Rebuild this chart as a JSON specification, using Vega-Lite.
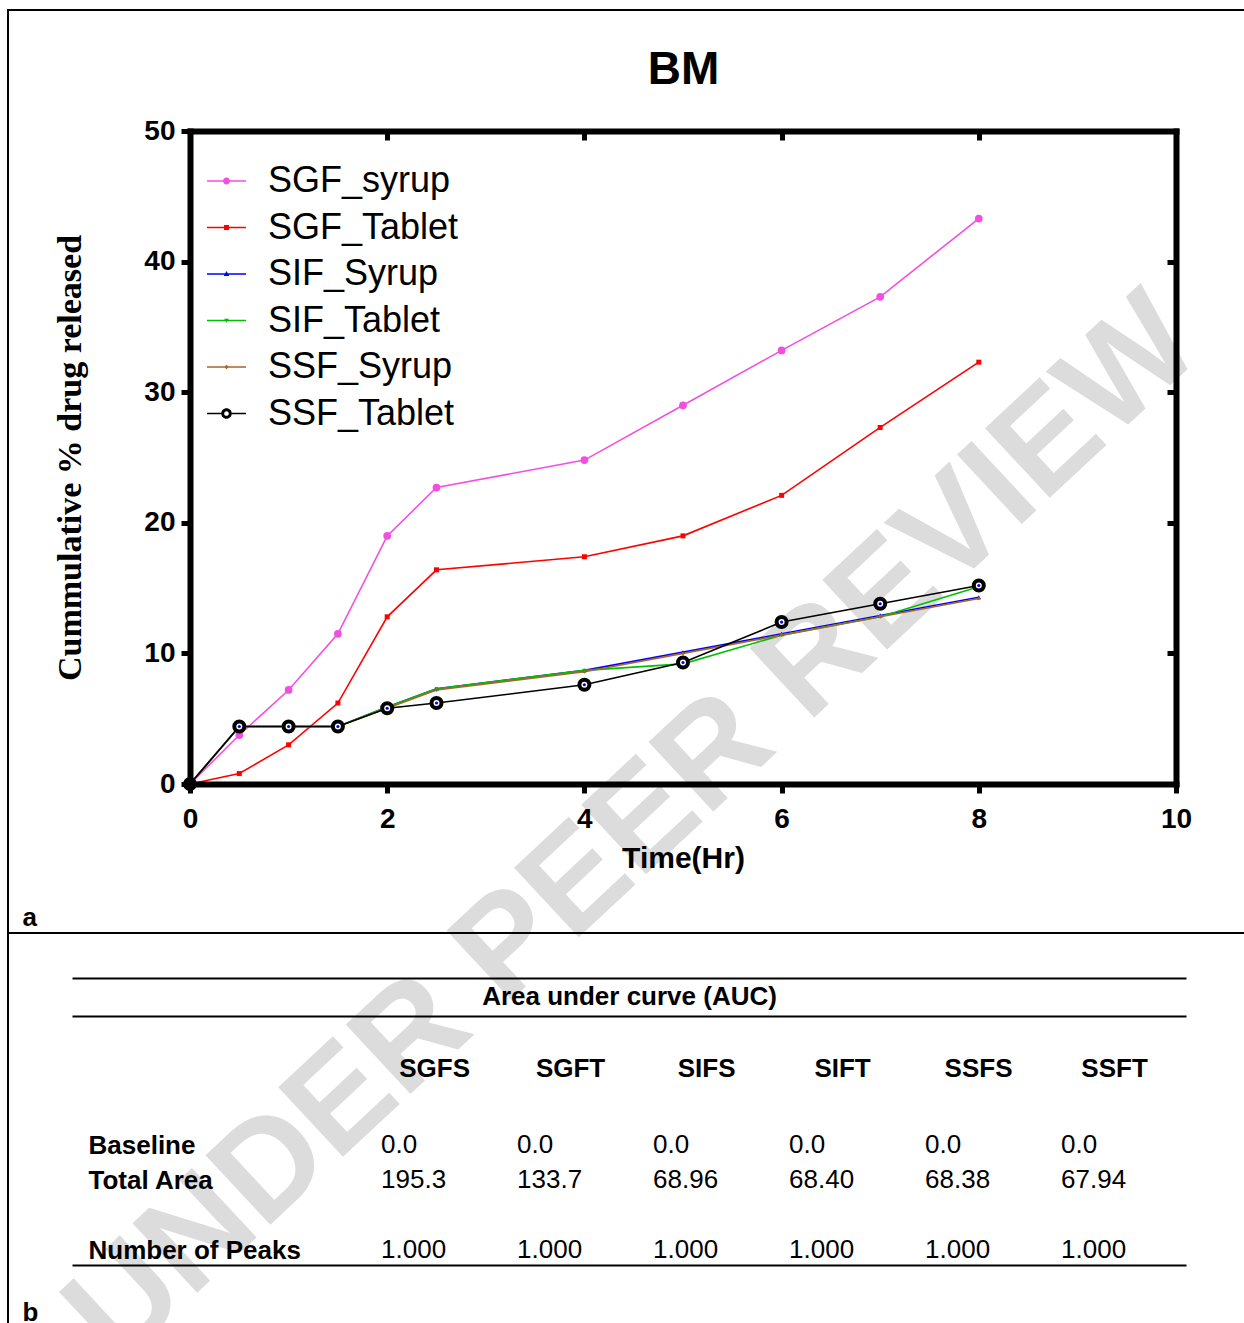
{
  "$schema": "https://vega.github.io/schema/vega-lite/v6.json",
  "padding": {"left": 7, "top": 9, "right": 0, "bottom": 0},
  "background": "white",
  "bounds": "flush",
  "spacing": 0,
  "resolve": {"scale": {"color": "independent", "shape": "independent"}, "legend": {"color": "independent", "shape": "independent"}},
  "config": {
    "font": "Liberation Sans",
    "axis": {"grid": false, "zindex": 1, "domainColor": "black", "tickColor": "black", "labelColor": "black", "titleColor": "black", "labelFont": "Liberation Sans", "titleFont": "Liberation Sans"}
  },
  "datasets": {
    "release": [
      {"series": "SGF_syrup", "time": 0, "pct": 0}, {"series": "SGF_syrup", "time": 0.5, "pct": 3.75}, {"series": "SGF_syrup", "time": 1, "pct": 7.2}, {"series": "SGF_syrup", "time": 1.5, "pct": 11.5}, {"series": "SGF_syrup", "time": 2, "pct": 19.0}, {"series": "SGF_syrup", "time": 2.5, "pct": 22.7}, {"series": "SGF_syrup", "time": 4, "pct": 24.8}, {"series": "SGF_syrup", "time": 5, "pct": 29.0}, {"series": "SGF_syrup", "time": 6, "pct": 33.2}, {"series": "SGF_syrup", "time": 7, "pct": 37.3}, {"series": "SGF_syrup", "time": 8, "pct": 43.3},
      {"series": "SGF_Tablet", "time": 0, "pct": 0}, {"series": "SGF_Tablet", "time": 0.5, "pct": 0.8}, {"series": "SGF_Tablet", "time": 1, "pct": 3.0}, {"series": "SGF_Tablet", "time": 1.5, "pct": 6.2}, {"series": "SGF_Tablet", "time": 2, "pct": 12.8}, {"series": "SGF_Tablet", "time": 2.5, "pct": 16.4}, {"series": "SGF_Tablet", "time": 4, "pct": 17.4}, {"series": "SGF_Tablet", "time": 5, "pct": 19.0}, {"series": "SGF_Tablet", "time": 6, "pct": 22.1}, {"series": "SGF_Tablet", "time": 7, "pct": 27.3}, {"series": "SGF_Tablet", "time": 8, "pct": 32.3},
      {"series": "SIF_Syrup", "time": 0, "pct": 0}, {"series": "SIF_Syrup", "time": 0.5, "pct": 4.4}, {"series": "SIF_Syrup", "time": 1, "pct": 4.4}, {"series": "SIF_Syrup", "time": 1.5, "pct": 4.4}, {"series": "SIF_Syrup", "time": 2, "pct": 5.9}, {"series": "SIF_Syrup", "time": 2.5, "pct": 7.3}, {"series": "SIF_Syrup", "time": 4, "pct": 8.7}, {"series": "SIF_Syrup", "time": 5, "pct": 10.1}, {"series": "SIF_Syrup", "time": 6, "pct": 11.5}, {"series": "SIF_Syrup", "time": 7, "pct": 12.9}, {"series": "SIF_Syrup", "time": 8, "pct": 14.3},
      {"series": "SIF_Tablet", "time": 0, "pct": 0}, {"series": "SIF_Tablet", "time": 0.5, "pct": 4.4}, {"series": "SIF_Tablet", "time": 1, "pct": 4.4}, {"series": "SIF_Tablet", "time": 1.5, "pct": 4.4}, {"series": "SIF_Tablet", "time": 2, "pct": 5.9}, {"series": "SIF_Tablet", "time": 2.5, "pct": 7.3}, {"series": "SIF_Tablet", "time": 4, "pct": 8.7}, {"series": "SIF_Tablet", "time": 5, "pct": 9.2}, {"series": "SIF_Tablet", "time": 6, "pct": 11.4}, {"series": "SIF_Tablet", "time": 7, "pct": 12.8}, {"series": "SIF_Tablet", "time": 8, "pct": 15.1},
      {"series": "SSF_Syrup", "time": 0, "pct": 0}, {"series": "SSF_Syrup", "time": 0.5, "pct": 4.4}, {"series": "SSF_Syrup", "time": 1, "pct": 4.4}, {"series": "SSF_Syrup", "time": 1.5, "pct": 4.4}, {"series": "SSF_Syrup", "time": 2, "pct": 5.8}, {"series": "SSF_Syrup", "time": 2.5, "pct": 7.2}, {"series": "SSF_Syrup", "time": 4, "pct": 8.6}, {"series": "SSF_Syrup", "time": 5, "pct": 10.0}, {"series": "SSF_Syrup", "time": 6, "pct": 11.4}, {"series": "SSF_Syrup", "time": 7, "pct": 12.8}, {"series": "SSF_Syrup", "time": 8, "pct": 14.2},
      {"series": "SSF_Tablet", "time": 0, "pct": 0}, {"series": "SSF_Tablet", "time": 0.5, "pct": 4.4}, {"series": "SSF_Tablet", "time": 1, "pct": 4.4}, {"series": "SSF_Tablet", "time": 1.5, "pct": 4.4}, {"series": "SSF_Tablet", "time": 2, "pct": 5.8}, {"series": "SSF_Tablet", "time": 2.5, "pct": 6.2}, {"series": "SSF_Tablet", "time": 4, "pct": 7.6}, {"series": "SSF_Tablet", "time": 5, "pct": 9.3}, {"series": "SSF_Tablet", "time": 6, "pct": 12.4}, {"series": "SSF_Tablet", "time": 7, "pct": 13.8}, {"series": "SSF_Tablet", "time": 8, "pct": 15.2}
    ],
    "auc": [
      {"row": "Baseline", "col": "SGFS", "value": "0.0"}, {"row": "Baseline", "col": "SGFT", "value": "0.0"}, {"row": "Baseline", "col": "SIFS", "value": "0.0"}, {"row": "Baseline", "col": "SIFT", "value": "0.0"}, {"row": "Baseline", "col": "SSFS", "value": "0.0"}, {"row": "Baseline", "col": "SSFT", "value": "0.0"},
      {"row": "Total Area", "col": "SGFS", "value": "195.3"}, {"row": "Total Area", "col": "SGFT", "value": "133.7"}, {"row": "Total Area", "col": "SIFS", "value": "68.96"}, {"row": "Total Area", "col": "SIFT", "value": "68.40"}, {"row": "Total Area", "col": "SSFS", "value": "68.38"}, {"row": "Total Area", "col": "SSFT", "value": "67.94"},
      {"row": "Number of Peaks", "col": "SGFS", "value": "1.000"}, {"row": "Number of Peaks", "col": "SGFT", "value": "1.000"}, {"row": "Number of Peaks", "col": "SIFS", "value": "1.000"}, {"row": "Number of Peaks", "col": "SIFT", "value": "1.000"}, {"row": "Number of Peaks", "col": "SSFS", "value": "1.000"}, {"row": "Number of Peaks", "col": "SSFT", "value": "1.000"}
    ]
  },
  "vconcat": [
    {
      "width": 1237,
      "height": 923,
      "view": {"stroke": "black", "strokeWidth": 2},
      "data": {"name": "release"},
      "resolve": {"axis": {"x": "independent", "y": "independent"}},
      "layer": [
        {
          "data": {"values": [{"label": "UNDER PEER REVIEW"}]},
          "mark": {"type": "text", "angle": -43, "font": "Liberation Sans", "fontWeight": "bold", "fontSize": 138, "color": "#dcdcdc", "align": "center", "baseline": "middle", "zindex": 0},
          "encoding": {
            "x": {"datum": 4.5, "type": "quantitative", "scale": {"domain": [0, 10], "range": [182, 1168], "nice": false, "zero": false}, "axis": null},
            "y": {"datum": -3.5, "type": "quantitative", "scale": {"domain": [0, 50], "range": [774, 121], "nice": false, "zero": false}, "axis": null},
            "text": {"field": "label"}
          }
        },
        {
          "mark": {"type": "line", "strokeWidth": 1.6},
          "encoding": {
            "x": {"field": "time", "type": "quantitative", "scale": {"domain": [0, 10], "range": [182, 1168], "nice": false, "zero": false},
              "axis": {"orient": "bottom", "zindex": 2, "offset": -149, "values": [0, 2, 4, 6, 8, 10], "domainWidth": 6, "domainCap": "square", "tickSize": 9, "tickWidth": 5, "labelFontSize": 28, "labelFontWeight": "bold", "labelPadding": 12, "labelFlush": false, "title": "Time(Hr)", "titleFontSize": 30, "titleFontWeight": "bold", "titlePadding": 10}},
            "y": {"field": "pct", "type": "quantitative", "scale": {"domain": [0, 50], "range": [774, 121], "nice": false, "zero": false},
              "axis": {"orient": "left", "zindex": 2, "offset": -182, "values": [0, 10, 20, 30, 40, 50], "domainWidth": 6, "domainCap": "square", "tickSize": 9, "tickWidth": 5, "labelFontSize": 28, "labelFontWeight": "bold", "labelPadding": 6, "labelFlush": false, "title": "Cummulative % drug released", "titleFont": "Liberation Serif", "titleFontSize": 34, "titleFontWeight": "bold", "titlePadding": 56}},
            "color": {"field": "series", "type": "nominal", "scale": {"domain": ["SGF_syrup", "SGF_Tablet", "SIF_Syrup", "SIF_Tablet", "SSF_Syrup", "SSF_Tablet"], "range": ["#f24fe1", "#ff0000", "#0000ff", "#00c000", "#a5682a", "#000000"]}}
          }
        },
        {
          "transform": [{"filter": "datum.series === 'SGF_syrup'"}],
          "mark": {"type": "point", "shape": "circle", "size": 60, "filled": true, "color": "#f24fe1", "opacity": 1},
          "encoding": {
            "x": {"field": "time", "type": "quantitative", "scale": {"domain": [0, 10], "range": [182, 1168], "nice": false, "zero": false},
              "axis": {"orient": "top", "zindex": 2, "offset": -121, "values": [0, 2, 4, 6, 8, 10], "labels": false, "domainWidth": 6, "domainCap": "square", "tickSize": -9, "tickWidth": 5, "title": "a", "titleX": 14, "titleY": 786, "titleAngle": 0, "titleAlign": "left", "titleBaseline": "middle", "titleFontSize": 26, "titleFontWeight": "bold"}},
            "y": {"field": "pct", "type": "quantitative", "scale": {"domain": [0, 50], "range": [774, 121], "nice": false, "zero": false},
              "axis": {"orient": "right", "zindex": 2, "offset": -69, "values": [0, 10, 20, 30, 40, 50], "labels": false, "domainWidth": 6, "domainCap": "square", "tickSize": -9, "tickWidth": 5, "title": "BM", "titleAngle": 0, "titleX": -493, "titleY": 73, "titleAlign": "center", "titleBaseline": "alphabetic", "titleFontSize": 46, "titleFontWeight": "bold"}}
          }
        },
        {
          "transform": [{"filter": "datum.series === 'SGF_Tablet'"}],
          "mark": {"type": "point", "shape": "square", "size": 25, "filled": true, "color": "#ff0000", "opacity": 1},
          "encoding": {
            "x": {"field": "time", "type": "quantitative", "axis": null},
            "y": {"field": "pct", "type": "quantitative", "axis": null}
          }
        },
        {
          "transform": [{"filter": "datum.series === 'SIF_Syrup'"}],
          "mark": {"type": "point", "shape": "triangle-up", "size": 20, "filled": true, "color": "#0000ff", "opacity": 1},
          "encoding": {
            "x": {"field": "time", "type": "quantitative", "axis": null},
            "y": {"field": "pct", "type": "quantitative", "axis": null}
          }
        },
        {
          "transform": [{"filter": "datum.series === 'SIF_Tablet'"}],
          "mark": {"type": "point", "shape": "triangle-down", "size": 16, "filled": true, "color": "#00c000", "opacity": 1},
          "encoding": {
            "x": {"field": "time", "type": "quantitative", "axis": null},
            "y": {"field": "pct", "type": "quantitative", "axis": null}
          }
        },
        {
          "transform": [{"filter": "datum.series === 'SSF_Syrup'"}],
          "mark": {"type": "point", "shape": "diamond", "size": 16, "filled": true, "color": "#a5682a", "opacity": 1},
          "encoding": {
            "x": {"field": "time", "type": "quantitative", "axis": null},
            "y": {"field": "pct", "type": "quantitative", "axis": null}
          }
        },
        {
          "transform": [{"filter": "datum.series === 'SSF_Tablet'"}],
          "mark": {"type": "point", "shape": "circle", "size": 100, "fill": "white", "stroke": "black", "strokeWidth": 4, "opacity": 1},
          "encoding": {
            "x": {"field": "time", "type": "quantitative", "axis": null},
            "y": {"field": "pct", "type": "quantitative", "axis": null}
          }
        },
        {
          "transform": [{"filter": "datum.series === 'SSF_Tablet'"}],
          "mark": {"type": "point", "shape": "circle", "size": 10, "filled": true, "color": "#0000ff", "opacity": 1},
          "encoding": {
            "x": {"field": "time", "type": "quantitative", "axis": null},
            "y": {"field": "pct", "type": "quantitative", "axis": null}
          }
        },
        {
          "mark": {"type": "point", "filled": true, "opacity": 0},
          "encoding": {
            "x": {"field": "time", "type": "quantitative", "axis": null},
            "y": {"field": "pct", "type": "quantitative", "axis": null},
            "color": {"field": "series", "type": "nominal", "scale": {"domain": ["SGF_syrup", "SGF_Tablet", "SIF_Syrup", "SIF_Tablet", "SSF_Syrup", "SSF_Tablet"], "range": ["#f24fe1", "#ff0000", "#0000ff", "#00c000", "#a5682a", "#000000"]},
              "legend": {"orient": "none", "legendX": 199, "legendY": 151.5, "title": null, "padding": 0, "labelFont": "Liberation Sans", "labelFontSize": 36, "labelColor": "black", "labelOffset": 22, "labelLimit": 500, "rowPadding": 8.5, "symbolSize": 1521, "symbolOpacity": 1, "symbolStrokeWidth": 0}},
            "shape": {"field": "series", "type": "nominal", "scale": {"domain": ["SGF_syrup", "SGF_Tablet", "SIF_Syrup", "SIF_Tablet", "SSF_Syrup", "SSF_Tablet"], "range": [
                "M-1,-0.04L1,-0.04L1,0.04L-1,0.04Z M-0.18,0A0.18,0.18,0,1,1,0.18,0A0.18,0.18,0,1,1,-0.18,0Z",
                "M-1,-0.04L1,-0.04L1,0.04L-1,0.04Z M-0.13,-0.13L0.13,-0.13L0.13,0.13L-0.13,0.13Z",
                "M-1,-0.04L1,-0.04L1,0.04L-1,0.04Z M0,-0.15L0.14,0.1L-0.14,0.1Z",
                "M-1,-0.04L1,-0.04L1,0.04L-1,0.04Z M-0.12,-0.09L0.12,-0.09L0,0.12Z",
                "M-1,-0.04L1,-0.04L1,0.04L-1,0.04Z M0,-0.12L0.12,0L0,0.12L-0.12,0Z",
                "M-1,-0.04L-0.27,-0.04L-0.27,0.04L-1,0.04Z M0.27,-0.04L1,-0.04L1,0.04L0.27,0.04Z M-0.27,0A0.27,0.27,0,1,1,0.27,0A0.27,0.27,0,1,1,-0.27,0Z M-0.12,0A0.12,0.12,0,1,0,0.12,0A0.12,0.12,0,1,0,-0.12,0Z"
              ]},
              "legend": {"orient": "none", "legendX": 199, "legendY": 151.5, "title": null, "padding": 0, "labelFont": "Liberation Sans", "labelFontSize": 36, "labelColor": "black", "labelOffset": 22, "labelLimit": 500, "rowPadding": 8.5, "symbolSize": 1521, "symbolOpacity": 1, "symbolStrokeWidth": 0}}
          }
        }
      ]
    },
    {
      "width": 1237,
      "height": 391,
      "view": {"stroke": "black", "strokeWidth": 2},
      "data": {"name": "auc"},
      "resolve": {"axis": {"x": "independent", "y": "independent"}},
      "layer": [
        {
          "mark": {"type": "text", "align": "left", "dx": -53, "baseline": "middle", "fontSize": 26, "font": "Liberation Sans", "color": "black"},
          "encoding": {
            "x": {"field": "col", "type": "nominal", "sort": null, "scale": {"type": "point", "domain": [" ", "  ", "SGFS", "SGFT", "SIFS", "SIFT", "SSFS", "SSFT"], "range": [64, 1178], "padding": 0.596, "align": 0.556},
              "axis": {"orient": "top", "offset": -143, "domain": false, "ticks": false, "tickSize": 0, "labelPadding": 0, "labelBaseline": "alphabetic", "labelAngle": 0, "labelFontSize": 26, "labelFontWeight": "bold", "title": null}},
            "y": {"field": "row", "type": "nominal", "sort": null, "scale": {"type": "point", "domain": ["Baseline", "Total Area", " ", "Number of Peaks"], "range": [212, 317], "padding": 0},
              "axis": {"orient": "left", "offset": -80, "domain": false, "ticks": false, "tickSize": 0, "labelPadding": 0, "labelAlign": "left", "labelBaseline": "middle", "labelFontSize": 26, "labelFontWeight": "bold", "labelLimit": 400, "title": null}},
            "text": {"field": "value"}
          }
        },
        {
          "mark": {"type": "text", "text": ""},
          "encoding": {
            "x": {"field": "col", "type": "nominal", "axis": {"orient": "bottom", "offset": -59, "domain": true, "domainWidth": 2, "labels": false, "ticks": false, "title": "b", "titleX": 14, "titleY": 47, "titleAngle": 0, "titleAlign": "left", "titleBaseline": "middle", "titleFontSize": 26, "titleFontWeight": "bold"}},
            "y": {"field": "row", "type": "nominal", "axis": null}
          }
        },
        {
          "mark": {"type": "text", "text": ""},
          "encoding": {
            "x": {"field": "col", "type": "nominal", "axis": {"orient": "top", "offset": -83, "domain": true, "domainWidth": 2, "labels": false, "ticks": false, "title": "Area under curve (AUC)", "titleY": -12, "titleBaseline": "alphabetic", "titleFontSize": 26, "titleFontWeight": "bold"}},
            "y": {"field": "row", "type": "nominal", "axis": null}
          }
        },
        {
          "mark": {"type": "text", "text": ""},
          "encoding": {
            "x": {"field": "col", "type": "nominal", "axis": {"orient": "top", "offset": -45, "domain": true, "domainWidth": 2, "labels": false, "ticks": false, "title": null}},
            "y": {"field": "row", "type": "nominal", "axis": null}
          }
        }
      ]
    }
  ]
}
